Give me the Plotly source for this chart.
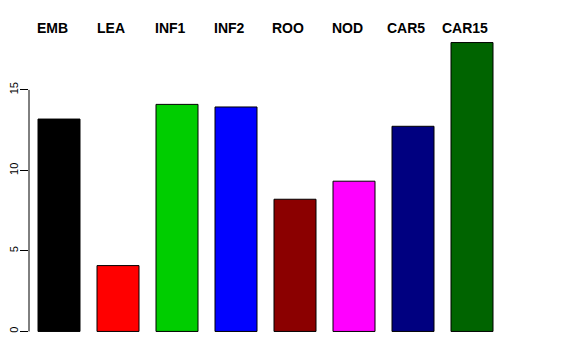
import plotly.graph_objects as go

categories = ["EMB", "LEA", "INF1", "INF2", "ROO", "NOD", "CAR5", "CAR15"]
values = [13.19, 4.09, 14.1, 13.94, 8.21, 9.33, 12.74, 17.94]
colors = ["#000000", "#FF0000", "#00CD00", "#0000FF", "#8B0000", "#FF00FF", "#000080", "#006400"]
y_ticks = [0, 5, 10, 15]

W, H = 576, 360
# page body has an 8px offset; compensate in margins
ml, mr, mt, mb = 21, 37, 23, 25
plot_w = W - ml - mr
px_per_cat = 59.0
x0 = -30.0 / px_per_cat
x1 = x0 + plot_w / px_per_cat

fig = go.Figure()
fig.add_trace(go.Bar(
    x=categories, y=values,
    marker=dict(color=colors, line=dict(color="#000000", width=1)),
    showlegend=False, hoverinfo="skip",
))

for c in categories:
    fig.add_annotation(
        x=c, y=1, xref="x", yref="paper", text="<b>%s</b>" % c,
        showarrow=False, xanchor="center", yanchor="middle",
        xshift=-7, yshift=3,
        font=dict(family="Liberation Sans, Arial, sans-serif", size=14, color="#000000"),
    )

ymax = max(values)
pad = ymax * 0.04
fig.add_shape(type="line", xref="paper", yref="y", x0=0, x1=0, y0=min(y_ticks), y1=max(y_ticks),
              line=dict(color="#000000", width=1))

fig.update_layout(
    width=W, height=H,
    margin=dict(l=ml, r=mr, t=mt, b=mb, autoexpand=False),
    paper_bgcolor="white", plot_bgcolor="white",
    bargap=1 - 42 / 59,
    font=dict(family="Liberation Sans, Arial, sans-serif", color="#000000"),
    xaxis=dict(range=[x0, x1], showticklabels=False, showline=False, showgrid=False,
               zeroline=False, ticks="", automargin=False),
    yaxis=dict(range=[-pad, ymax + pad], tickvals=y_ticks, ticktext=[str(t) for t in y_ticks],
               tickangle=-90, ticks="outside", ticklen=8, tickwidth=1, tickcolor="#000000",
               showline=False, showgrid=False, zeroline=False, automargin=False,
               tickfont=dict(size=11, color="#000000"), ticklabelstandoff=-2),
)

fig.write_html("out.html")
